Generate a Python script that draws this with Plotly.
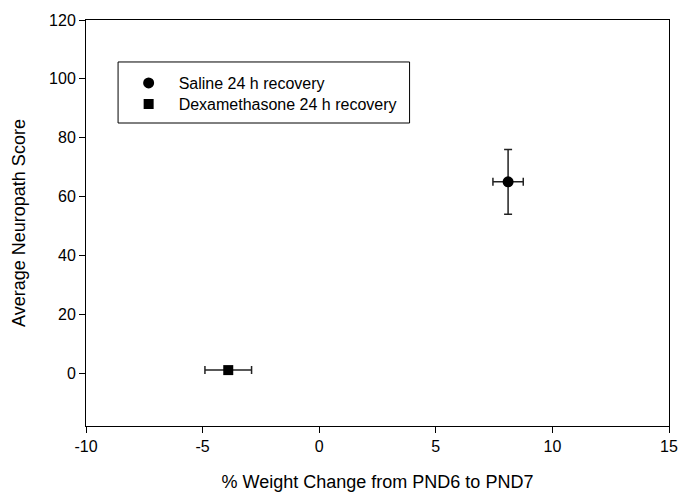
import plotly.graph_objects as go

series_names = ["Saline 24 h recovery", "Dexamethasone 24 h recovery"]
weight_change = [8.1, -3.9]
weight_err = [0.65, 1.0]
neuropath_score = [65, 1]
score_err = [11, 0]
symbols = ["circle", "square"]
x_ticks = [-10, -5, 0, 5, 10, 15]
x_ticktext = ["-10", "-5", "0", "5", "10", "15"]
y_ticks = [0, 20, 40, 60, 80, 100, 120]

legend_ids = ["legend", "legend2"]
fig = go.Figure()
for i, name in enumerate(series_names):
    fig.add_trace(go.Scatter(
        x=[weight_change[i]], y=[neuropath_score[i]], name=name, mode="markers",
        legend=legend_ids[i],
        marker=dict(symbol=symbols[i], size=11 if symbols[i] == "circle" else 10, color="black"),
        error_x=dict(type="data", array=[weight_err[i]], visible=True, color="#222", thickness=1.5, width=4),
        error_y=dict(type="data", array=[score_err[i]], visible=score_err[i] > 0, color="#222", thickness=1.5, width=4),
    ))

leg_common = dict(xanchor="left", yanchor="middle", bgcolor="rgba(0,0,0,0)", borderwidth=0,
                  font=dict(size=16), itemwidth=50)
fig.update_layout(
    width=680, height=492,
    margin=dict(l=86, r=11, t=20, b=66, autoexpand=False),
    plot_bgcolor="white", paper_bgcolor="white",
    font=dict(family="Arial, Liberation Sans, sans-serif", size=16, color="black"),
    showlegend=True,
    legend=dict(x=0.056, y=0.8448, **leg_common),
    legend2=dict(x=0.056, y=0.7931, **leg_common),
    shapes=[dict(type="rect", xref="paper", yref="paper",
                 x0=0.055, x1=0.555, y0=0.7463, y1=0.8966,
                 line=dict(color="black", width=1), fillcolor="white", layer="below")],
)
fig.update_xaxes(range=[-10, 15], tickvals=x_ticks, ticktext=x_ticktext, ticks="outside", ticklen=6,
                 tickcolor="black", showline=True, linecolor="black", linewidth=1,
                 mirror=True, showgrid=False, zeroline=False, automargin=False,
                 title=dict(text="% Weight Change from PND6 to PND7", font=dict(size=18), standoff=22))
fig.update_yaxes(range=[-18, 120], tickvals=y_ticks, ticks="outside", ticklen=6,
                 tickcolor="black", showline=True, linecolor="black", linewidth=1,
                 mirror=True, showgrid=False, zeroline=False, automargin=False,
                 title=dict(text="Average Neuropath Score", font=dict(size=18), standoff=18))

fig.write_html("out.html")
